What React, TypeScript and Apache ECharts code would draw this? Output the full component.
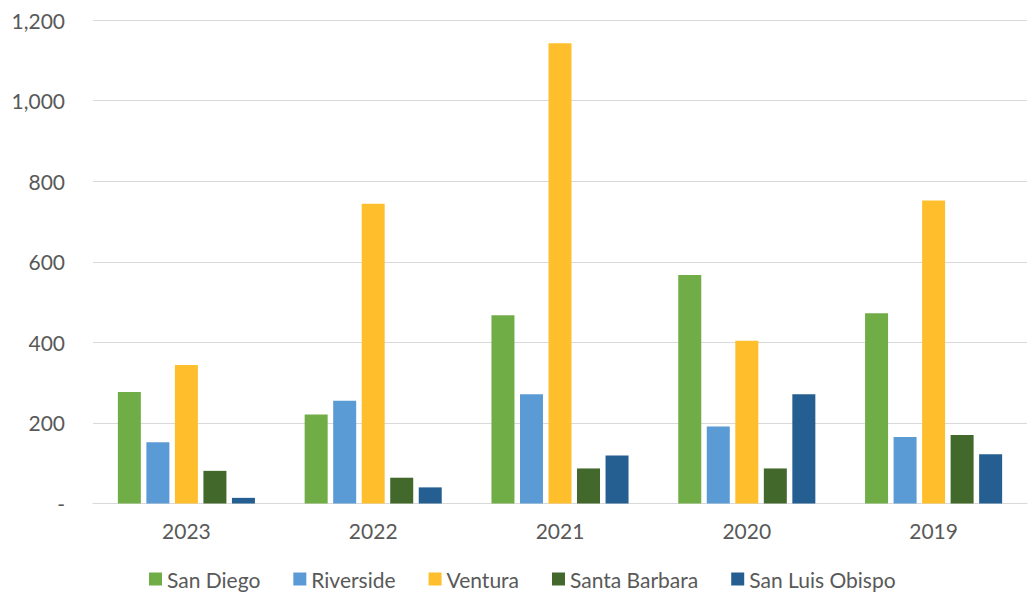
import React, { useEffect, useRef } from "react";
import * as echarts from "echarts";

const years = ["2023", "2022", "2021", "2020", "2019"];
const sanDiego = [277, 221, 467, 567, 472];
const riverside = [152, 255, 271, 191, 165];
const ventura = [344, 744, 1142, 404, 752];
const santaBarbara = [81, 64, 87, 87, 170];
const sanLuisObispo = [14, 40, 119, 271, 122];

const seriesDefs = [
  { name: "San Diego", data: sanDiego, color: "#70AD47" },
  { name: "Riverside", data: riverside, color: "#5B9BD5" },
  { name: "Ventura", data: ventura, color: "#FFBF2C" },
  { name: "Santa Barbara", data: santaBarbara, color: "#43682B" },
  { name: "San Luis Obispo", data: sanLuisObispo, color: "#255E91" },
];

const FONT = "Lato, 'Noto Sans', sans-serif";
const TEXT = "#595959";
const FONT_SIZE = 21;

export default function App() {
  const ref = useRef<HTMLDivElement>(null);

  useEffect(() => {
    if (!ref.current) return;
    const chart = echarts.init(ref.current, undefined, { renderer: "svg" });
    chart.setOption({
      animation: false,
      backgroundColor: "#ffffff",
      grid: { left: 93, right: 2, top: 20, bottom: 88.5, containLabel: false },
      legend: {
        top: 568,
        left: 149,
        padding: 0,
        icon: "rect",
        itemWidth: 13,
        itemHeight: 13,
        itemGap: 33,
        textStyle: {
          color: TEXT,
          fontSize: FONT_SIZE,
          fontFamily: FONT,
          lineHeight: 22,
        },
        data: seriesDefs.map((s) => s.name),
      },
      xAxis: {
        type: "category",
        data: years,
        axisLine: { show: true, lineStyle: { color: "#d9d9d9", width: 1 } },
        axisTick: { show: false },
        axisLabel: { color: TEXT, fontSize: FONT_SIZE, fontFamily: FONT, margin: 16 },
      },
      yAxis: {
        type: "value",
        min: 0,
        max: 1200,
        interval: 200,
        axisLine: { show: false },
        axisTick: { show: false },
        splitLine: { lineStyle: { color: "#d9d9d9", width: 1 } },
        axisLabel: {
          color: TEXT,
          fontSize: FONT_SIZE,
          fontFamily: FONT,
          margin: 28,
          formatter: (v: number) => (v === 0 ? "-" : v.toLocaleString("en-US")),
        },
      },
      series: seriesDefs.map((s) => ({
        name: s.name,
        type: "bar",
        data: s.data,
        barWidth: 23,
        barGap: "24%",
        itemStyle: { color: s.color },
      })),
    });
    return () => chart.dispose();
  }, []);

  return (
    <div
      ref={ref}
      style={{ position: "fixed", left: 0, top: 0, width: 1029, height: 592 }}
    />
  );
}
